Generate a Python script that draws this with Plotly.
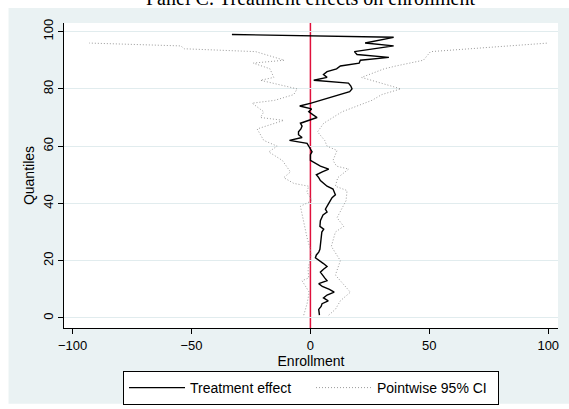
import plotly.graph_objects as go

# Quantile treatment effects on enrollment (quantile index -> effect)
q_effect = [1, 2, 3, 4, 5, 6, 7, 8, 9, 10, 11, 12, 13, 14, 15, 16, 17, 18, 19, 20,
            21, 22, 23, 24, 26, 28, 30, 31, 32, 34, 36, 37, 38, 40, 42, 43, 45, 46,
            48, 49, 50, 51, 52, 53, 54, 55, 57, 58, 59, 60, 61, 62, 63, 64, 65, 66,
            67, 68, 69, 70, 71, 72, 73, 74, 75, 76, 77, 78, 79, 80, 81, 82, 83, 84,
            85, 86, 87, 88, 89, 90, 91, 92, 93, 95, 96, 98, 99]
effect = [3.8, 3.5, 3.5, 4.5, 4.9, 7.5, 5.5, 7.0, 10.0, 8.0, 5.0, 3.5, 7.0, 6.0, 5.0,
          4.2, 5.5, 7.0, 5.5, 3.5, 2.1, 2.5, 3.5, 4.0, 4.2, 4.5, 4.8, 5.6, 4.0, 4.2,
          5.3, 7.0, 6.3, 7.7, 9.1, 10.5, 9.5, 7.0, 4.2, 3.5, 2.5, 5.0, 7.7, 4.2, 2.0,
          0.0, 0.0, 0.7, 0.0, -0.7, -1.4, -8.8, -3.5, -5.0, -5.0, -4.0, -3.5, -4.2,
          -0.7, 2.8, 1.0, -0.7, 0.5, -4.5, 0.3, 4.5, 8.4, 12.0, 16.5, 17.5, 17.0, 16.0,
          1.4, 7.0, 5.5, 7.0, 11.0, 12.6, 20.5, 21.0, 33.0, 19.6, 18.5, 35.0, 23.0,
          35.0, -33.0]

# Pointwise 95% confidence band
q_lower = [1, 5, 9, 13, 14, 17, 22, 24, 28, 34, 39, 41, 44, 46, 47, 49, 51, 55, 58,
           60, 62, 66, 69, 70, 72, 75, 76, 78, 80, 83, 84, 87, 89, 90, 93, 94, 95, 96]
lower = [-2.8, -1.4, -0.5, -3.5, -0.7, -1.0, 0.3, 0.0, -1.4, -2.8, -4.2, 0.7, -1.5,
         -0.7, -7.0, -11.2, -8.4, -11.8, -17.5, -14.0, -19.6, -22.4, -11.2, -21.0,
         -19.6, -24.5, -15.0, -7.0, -5.6, -21.0, -15.4, -17.0, -24.0, -11.0, -23.0,
         -53.0, -54.5, -93.0]

q_upper = [1, 3, 6, 9, 15, 20, 25, 30, 32, 35, 41, 44.5, 46, 49, 52, 53, 55, 58.5,
           60, 62, 65, 68, 72, 76, 78, 80, 84, 87, 88, 90, 91, 93, 96]
upper = [7.7, 10.5, 12.6, 16.8, 10.5, 12.6, 8.8, 10.5, 14.0, 11.2, 15.0, 15.4, 10.5,
         11.5, 16.1, 11.0, 9.5, 11.2, 7.0, 6.0, 3.0, 5.6, 13.3, 25.9, 30.0, 38.0,
         21.5, 31.0, 36.0, 47.5, 48.5, 50.5, 100.0]

x_ticks = [-100, -50, 0, 50, 100]
y_ticks = [0, 20, 40, 60, 80, 100]

BLUE = "#EAF2F3"
GRID = "#E1ECEE"
FONT = "Liberation Sans, Arial, sans-serif"
CI_LINE = dict(color="#9a9a9a", width=1, dash="1px,2px")

fig = go.Figure()

fig.add_trace(go.Scatter(
    x=effect, y=q_effect, mode="lines", name="Treatment effect",
    line=dict(color="black", width=1.4), legendgroup="te"))

fig.add_trace(go.Scatter(
    x=lower, y=q_lower, mode="lines", name="Pointwise 95% CI",
    line=CI_LINE, legendgroup="ci"))
fig.add_trace(go.Scatter(
    x=upper, y=q_upper, mode="lines", name="Pointwise 95% CI",
    line=CI_LINE, legendgroup="ci", showlegend=False))

# Reference line at zero effect
fig.add_shape(type="line", xref="x", yref="y", x0=0, x1=0, y0=-3.5, y1=103,
              line=dict(color="#E0103C", width=1.5), layer="below")

# White page border around the graph region
for x0, x1, y0, y1 in [(-1, 2, 1.0 + 15 / 305.3, 2),
                       (-1, -55.5 / 494.2, -2, 2),
                       (-1, 2, -2, -(404 - 328.3) / 305.3)]:
    fig.add_shape(type="rect", xref="paper", yref="paper",
                  x0=x0, x1=x1, y0=y0, y1=y1,
                  fillcolor="white", line=dict(width=0), layer="below")

# Panel heading, sitting on the page above the graph region
fig.add_annotation(
    text="Panel C: Treatment effects on enrollment",
    xref="paper", yref="paper", x=(311 - 64) / 494.2, y=(328.3 + 2.5) / 305.3,
    xanchor="center", yanchor="middle", showarrow=False,
    font=dict(family="Liberation Serif, Times New Roman, serif", size=20,
              color="black"))

fig.update_layout(
    width=569, height=409,
    margin=dict(l=64, r=11, t=23, b=81, autoexpand=False),
    paper_bgcolor=BLUE, plot_bgcolor="white",
    font=dict(family=FONT, size=13, color="black"),
    showlegend=True,
    legend=dict(orientation="h", x=0.5, xanchor="center", y=-0.141,
                yanchor="top", bgcolor="white", bordercolor="black",
                borderwidth=1, font=dict(size=14), itemwidth=56,
                entrywidth=116, traceorder="normal"),
)

fig.update_xaxes(
    range=[-103.6, 104.1], tickvals=x_ticks, ticks="outside", ticklen=5,
    tickcolor="black", showline=True, linecolor="black", linewidth=1,
    showgrid=False, zeroline=False,
    title=dict(text="Enrollment", standoff=0, font=dict(size=14)),
    tickfont=dict(size=13))

fig.update_yaxes(
    range=[-3.5, 103], tickvals=y_ticks, ticks="outside", ticklen=5,
    tickcolor="black", showline=True, linecolor="black", linewidth=1,
    showgrid=True, gridcolor=GRID, gridwidth=1, zeroline=False,
    tickangle=-90, title=dict(text="Quantiles", standoff=2, font=dict(size=14)),
    tickfont=dict(size=13))

fig.write_html("out.html")
